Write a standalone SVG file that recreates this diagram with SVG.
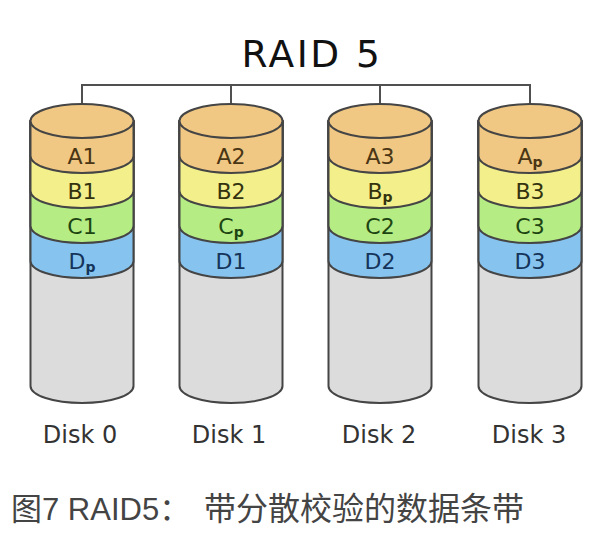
<svg xmlns="http://www.w3.org/2000/svg" xmlns:xlink="http://www.w3.org/1999/xlink" width="598" height="542" viewBox="0 0 598 542">
<style>
.bg{fill:#ffffff}
.sh{stroke:#454545;stroke-width:2;stroke-linejoin:round}
.body{fill:#dcdcdc}
.a{fill:#f0c883}
.b{fill:#f3f08c}
.c{fill:#b6ec84}
.d{fill:#86c4ef}
.conn{fill:none;stroke:#505050;stroke-width:2}
.title{font-family:"DejaVu Sans",sans-serif;font-size:37.5px;letter-spacing:2.5px;fill:#111111;text-anchor:middle}
.lbl{font-family:"DejaVu Sans",sans-serif;font-size:22px;text-anchor:middle}
.ta{fill:#4a3514}.tb{fill:#33330f}.tc{fill:#1d4512}.td{fill:#15345a}
.sub{font-size:14px;font-weight:bold}
.disk{font-family:"DejaVu Sans",sans-serif;font-size:24px;fill:#333333;text-anchor:middle}
.cap{font-family:"Liberation Sans","Noto Sans CJK SC",sans-serif;font-size:31px;fill:#444444}
.capc{font-size:32px}
</style>
<defs>
<g id="cyl">
<path class="body sh" d="M-51.5,121 V386 A51.5,17 0 0 0 51.5,386 V121 Z"/>
<path class="d sh" d="M-51.5,121 V261 A51.5,17 0 0 0 51.5,261 V121 Z"/>
<path class="c sh" d="M-51.5,121 V226 A51.5,17 0 0 0 51.5,226 V121 Z"/>
<path class="b sh" d="M-51.5,121 V191 A51.5,17 0 0 0 51.5,191 V121 Z"/>
<path class="a sh" d="M-51.5,121 V156 A51.5,17 0 0 0 51.5,156 V121 Z"/>
<ellipse class="a sh" cx="0" cy="121" rx="51.5" ry="17"/>
</g>
</defs>
<rect class="bg" x="0" y="0" width="598" height="542"/>
<text id="title" class="title" x="312" y="67">RAID 5</text>
<g id="connectors">
<path class="conn" d="M82,85 H530 M82,84 V121 M231,85 V121 M380,85 V121 M530,84 V121"/>
</g>
<g id="disk0">
<use xlink:href="#cyl" href="#cyl" x="82" y="0"/>
<text class="lbl ta" x="82" y="164">A1</text>
<text class="lbl tb" x="82" y="199">B1</text>
<text class="lbl tc" x="82" y="234">C1</text>
<text class="lbl td" x="82" y="269">D<tspan class="sub" dy="3">p</tspan></text>
<text class="disk" x="80" y="443">Disk 0</text>
</g>
<g id="disk1">
<use xlink:href="#cyl" href="#cyl" x="231" y="0"/>
<text class="lbl ta" x="231" y="164">A2</text>
<text class="lbl tb" x="231" y="199">B2</text>
<text class="lbl tc" x="231" y="234">C<tspan class="sub" dy="3">p</tspan></text>
<text class="lbl td" x="231" y="269">D1</text>
<text class="disk" x="229" y="443">Disk 1</text>
</g>
<g id="disk2">
<use xlink:href="#cyl" href="#cyl" x="380" y="0"/>
<text class="lbl ta" x="380" y="164">A3</text>
<text class="lbl tb" x="380" y="199">B<tspan class="sub" dy="3">p</tspan></text>
<text class="lbl tc" x="380" y="234">C2</text>
<text class="lbl td" x="380" y="269">D2</text>
<text class="disk" x="379" y="443">Disk 2</text>
</g>
<g id="disk3">
<use xlink:href="#cyl" href="#cyl" x="530" y="0"/>
<text class="lbl ta" x="530" y="164">A<tspan class="sub" dy="3">p</tspan></text>
<text class="lbl tb" x="530" y="199">B3</text>
<text class="lbl tc" x="530" y="234">C3</text>
<text class="lbl td" x="530" y="269">D3</text>
<text class="disk" x="529" y="443">Disk 3</text>
</g>
<text id="caption" class="cap" x="11" y="520">图7 RAID5：<tspan class="capc" x="204">带分散校验的数据条带</tspan></text>
</svg>
